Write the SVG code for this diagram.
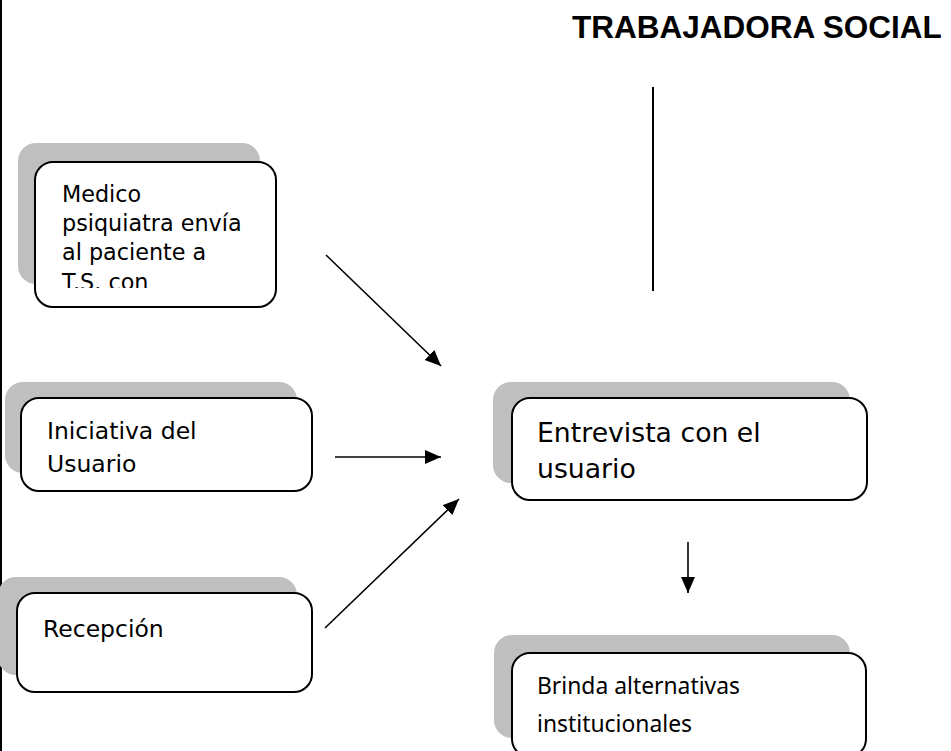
<svg xmlns="http://www.w3.org/2000/svg" width="951" height="751" viewBox="0 0 951 751">
  <style>
    .shadow { fill: #bfbfbf; stroke: none; }
    .box { fill: #ffffff; stroke: #000000; stroke-width: 2; }
    .v { font-family: "DejaVu Sans", Verdana, sans-serif; fill: #000000; }
    .c { font-family: "Noto Sans", "Open Sans", sans-serif; fill: #000000; }
    .title { font-family: "Liberation Sans", Arial, sans-serif; font-weight: bold; font-size: 31.5px; fill: #000000; }
    .conn { stroke: #000000; stroke-width: 1.6; fill: none; marker-end: url(#arrow); }
  </style>
  <defs>
    <marker id="arrow" markerUnits="userSpaceOnUse" markerWidth="17" markerHeight="15" refX="16" refY="7" orient="auto">
      <path d="M0,0 L16,7 L0,14 Z" fill="#000000"/>
    </marker>
    <clipPath id="clipMedico">
      <rect x="35" y="162" width="241" height="126"/>
    </clipPath>
  </defs>
  <rect x="0" y="0" width="951" height="751" fill="#ffffff"/>
  <line x1="1" y1="0" x2="1" y2="751" stroke="#000000" stroke-width="2"/>

  <g id="title">
    <text class="title" x="572" y="38">TRABAJADORA SOCIAL</text>
    <line x1="653" y1="87" x2="653" y2="291" stroke="#000000" stroke-width="2"/>
  </g>

  <g id="node-medico">
    <rect class="shadow" x="18" y="143" width="242" height="141" rx="18"/>
    <rect class="box" x="35" y="162" width="241" height="145" rx="18"/>
    <g clip-path="url(#clipMedico)">
      <text class="v" font-size="22.3">
        <tspan x="62" y="202">Medico</tspan>
        <tspan x="62" y="231">psiquiatra envía</tspan>
        <tspan x="62" y="260">al paciente a</tspan>
        <tspan x="62" y="290">T.S. con</tspan>
      </text>
    </g>
  </g>

  <g id="node-iniciativa">
    <rect class="shadow" x="5" y="382" width="292" height="91" rx="18"/>
    <rect class="box" x="21" y="398" width="291" height="93" rx="18"/>
    <text class="v" font-size="23.5">
      <tspan x="47" y="439">Iniciativa del</tspan>
      <tspan x="47" y="472">Usuario</tspan>
    </text>
  </g>

  <g id="node-recepcion">
    <rect class="shadow" x="-2" y="577" width="299" height="98" rx="18"/>
    <rect class="box" x="17" y="593" width="295" height="99" rx="18"/>
    <text class="v" font-size="23.5" x="43" y="637">Recepción</text>
  </g>

  <g id="node-entrevista">
    <rect class="shadow" x="493" y="382" width="357" height="101" rx="18"/>
    <rect class="box" x="512" y="398" width="355" height="102" rx="18"/>
    <text class="v" font-size="26.7">
      <tspan x="537" y="442">Entrevista con el</tspan>
      <tspan x="537" y="478">usuario</tspan>
    </text>
  </g>

  <g id="node-brinda">
    <rect class="shadow" x="494" y="635" width="356" height="103" rx="18"/>
    <rect class="box" x="512" y="653" width="354" height="104" rx="18"/>
    <text class="c" font-size="23" x="537" y="694" textLength="203" lengthAdjust="spacingAndGlyphs">Brinda alternativas</text>
    <text class="c" font-size="23" x="537" y="732" textLength="155" lengthAdjust="spacingAndGlyphs">institucionales</text>
  </g>

  <g id="connectors">
    <path class="conn" d="M326,255 L441,366"/>
    <path class="conn" d="M335,457 L441,457"/>
    <path class="conn" d="M325,628 L459,499"/>
    <path class="conn" d="M688,542 L688,593"/>
  </g>
</svg>
